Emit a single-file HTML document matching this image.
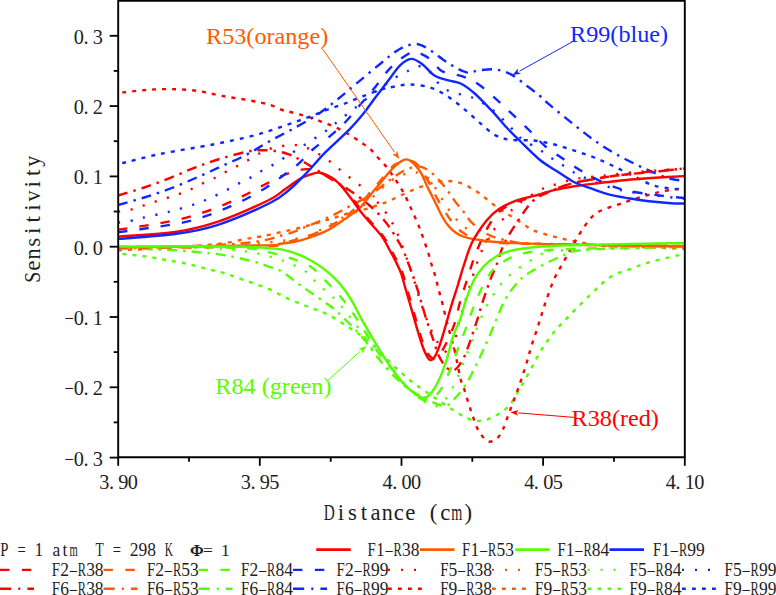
<!DOCTYPE html>
<html><head><meta charset="utf-8">
<style>
html,body{margin:0;padding:0;background:#fff;}
body{width:776px;height:595px;overflow:hidden;position:relative;}
svg{position:absolute;left:0;top:0;}
.m{font-family:"Liberation Mono",monospace;}
.s{font-family:"Liberation Serif",serif;}
</style></head><body>
<svg width="776" height="595" viewBox="0 0 776 595">
<defs><clipPath id="pc"><rect x="118.2" y="1" width="566.6" height="456.3"/></clipPath></defs>
<g clip-path="url(#pc)" stroke-linecap="butt">
<path d="M118.0 250.2 C122.4 250.0 136.5 249.5 144.2 249.2 C151.9 248.9 157.7 248.6 164.4 248.2 C171.1 247.8 177.8 247.3 184.5 246.8 C191.2 246.3 198.0 245.8 204.7 245.2 C211.4 244.6 218.2 244.1 224.9 243.1 C231.6 242.1 238.8 240.2 245.0 239.1 C251.2 238.0 255.8 237.5 262.0 236.3 C268.2 235.1 275.3 233.4 282.0 231.9 C288.7 230.4 295.6 229.0 302.3 227.2 C309.1 225.4 317.1 222.9 322.5 221.3 C327.9 219.7 330.6 218.9 335.0 217.6 C339.4 216.3 343.3 214.8 348.8 213.3 C354.3 211.8 363.2 209.9 368.0 208.6 C372.8 207.2 374.1 206.3 377.3 205.2 C380.5 204.1 383.8 203.1 387.0 201.8 C390.2 200.5 393.2 199.0 396.3 197.6 C399.4 196.2 402.5 194.7 405.6 193.3 C408.7 191.9 411.6 190.5 414.7 189.2 C417.8 187.9 420.8 186.8 424.0 185.7 C427.2 184.6 430.7 183.4 433.9 182.6 C437.1 181.8 440.2 181.2 443.4 181.0 C446.6 180.8 449.8 180.9 453.1 181.4 C456.4 181.9 459.9 182.7 463.0 183.9 C466.1 185.1 469.0 187.0 471.8 188.6 C474.6 190.2 477.4 191.8 480.0 193.7 C482.6 195.6 485.1 197.8 487.7 199.9 C490.3 202.0 492.8 204.1 495.5 206.1 C498.2 208.1 501.1 210.1 503.7 211.8 C506.3 213.5 508.0 214.2 511.3 216.3 C514.6 218.4 519.9 222.1 523.7 224.5 C527.5 226.9 529.6 228.8 534.0 230.6 C538.4 232.4 544.7 234.1 550.1 235.6 C555.5 237.1 560.9 238.4 566.3 239.6 C571.7 240.8 576.7 241.7 582.4 242.7 C588.1 243.7 592.4 245.0 600.5 245.7 C608.6 246.4 616.9 246.2 630.8 246.7 C644.7 247.2 675.1 248.4 684.0 248.7" fill="none" stroke="#ff5a00" stroke-width="2.4" stroke-dasharray="4 6"/>
<path d="M122.5 254.0 C126.1 254.4 137.2 255.4 144.2 256.3 C151.2 257.2 157.7 258.5 164.4 259.7 C171.1 260.9 177.8 261.9 184.5 263.3 C191.2 264.7 198.0 266.6 204.7 268.3 C211.4 270.0 218.2 271.4 224.9 273.4 C231.6 275.4 237.8 277.8 245.0 280.4 C252.2 282.9 260.8 285.6 268.0 288.7 C275.2 291.8 281.5 295.8 288.2 298.8 C294.9 301.8 301.7 304.2 308.4 306.9 C315.1 309.6 321.6 311.3 328.5 314.9 C335.4 318.4 343.1 323.6 350.0 328.2 C356.9 332.8 363.5 336.6 370.2 342.3 C376.9 348.0 383.6 356.1 390.3 362.5 C397.0 368.9 403.8 375.2 410.5 380.6 C417.2 386.0 422.5 389.4 430.6 395.0 C438.7 400.6 452.7 409.8 459.3 413.9 C465.9 417.9 466.9 418.1 470.2 419.3 C473.5 420.5 476.1 420.9 479.0 420.9 C481.9 420.9 484.4 420.5 487.7 419.3 C491.0 418.1 495.0 416.2 498.6 413.9 C502.2 411.5 505.9 409.6 509.5 405.2 C513.1 400.8 516.8 393.9 520.4 387.7 C524.0 381.5 527.8 374.6 531.4 368.0 C535.0 361.4 538.7 354.2 542.3 348.4 C545.9 342.6 549.9 337.3 553.2 333.1 C556.5 328.9 555.8 329.7 561.9 323.3 C568.0 316.9 581.9 302.7 590.0 295.0 C598.1 287.3 603.8 281.2 610.6 276.9 C617.4 272.5 624.1 271.4 630.8 268.9 C637.5 266.4 642.1 264.3 651.0 261.8 C659.9 259.3 678.5 255.3 684.0 254.0" fill="none" stroke="#55ff00" stroke-width="2.4" stroke-dasharray="4 6"/>
<path d="M122.3 92.5 C126.4 92.1 138.8 90.5 146.7 89.9 C154.6 89.3 161.8 89.0 170.0 89.1 C178.2 89.2 187.3 89.6 196.0 90.7 C204.7 91.8 213.0 94.3 222.0 95.9 C231.0 97.5 242.0 99.0 250.0 100.5 C258.0 102.0 264.6 103.2 270.0 104.8 C275.4 106.4 278.9 108.8 282.3 110.0 C285.7 111.2 287.3 111.2 290.3 112.0 C293.3 112.8 297.1 113.8 300.4 114.7 C303.6 115.6 306.7 116.4 309.8 117.4 C312.9 118.4 316.2 119.7 319.2 120.8 C322.2 121.9 325.0 122.9 328.0 124.1 C331.0 125.3 334.4 126.6 337.4 128.1 C340.4 129.6 343.2 131.1 346.1 132.8 C349.0 134.5 352.1 136.5 355.0 138.3 C357.9 140.2 360.7 142.1 363.3 143.9 C365.9 145.8 368.4 147.2 370.7 149.4 C373.0 151.6 374.9 154.3 377.2 156.8 C379.5 159.3 382.4 162.0 384.6 164.6 C386.9 167.2 388.8 170.0 390.7 172.6 C392.6 175.2 394.2 177.6 396.0 180.4 C397.8 183.2 399.8 186.3 401.5 189.2 C403.2 192.1 404.7 194.9 406.2 197.9 C407.7 200.9 409.1 204.1 410.5 207.2 C411.9 210.3 413.2 213.2 414.6 216.3 C416.0 219.4 417.5 222.9 418.7 225.9 C419.9 228.9 420.9 231.4 422.0 234.6 C423.1 237.8 424.5 241.7 425.6 245.0 C426.7 248.3 427.8 251.1 428.7 254.2 C429.6 257.3 430.3 260.4 431.2 263.5 C432.1 266.6 433.4 269.6 434.3 272.8 C435.2 276.0 436.1 279.4 436.9 282.6 C437.7 285.8 438.4 288.9 439.3 292.1 C440.2 295.4 441.3 298.9 442.1 302.1 C442.9 305.3 443.2 306.8 444.3 311.4 C445.4 316.0 447.2 323.2 449.0 330.0 C450.8 336.8 453.1 343.8 455.0 352.0 C456.9 360.2 459.0 372.8 460.6 379.1 C462.2 385.4 463.1 385.6 464.5 390.0 C465.9 394.4 467.6 400.5 469.1 405.2 C470.6 409.9 471.9 413.9 473.5 418.3 C475.1 422.7 476.6 427.6 479.0 431.4 C481.4 435.2 484.8 439.9 487.7 441.2 C490.6 442.5 493.8 441.0 496.4 439.0 C498.9 437.0 500.8 433.8 503.0 429.2 C505.2 424.6 507.3 417.5 509.5 411.7 C511.7 405.9 514.1 399.6 516.1 394.2 C518.1 388.8 519.7 384.4 521.5 379.0 C523.3 373.6 525.4 367.0 527.0 361.5 C528.6 356.0 529.6 352.0 531.4 346.2 C533.2 340.4 535.7 333.6 537.9 326.6 C540.1 319.7 542.1 312.4 544.8 304.5 C547.5 296.6 551.0 286.3 554.2 279.0 C557.4 271.7 560.9 266.9 564.2 260.8 C567.6 254.8 570.9 248.4 574.3 242.7 C577.7 237.0 581.0 231.2 584.4 226.5 C587.8 221.8 590.8 217.4 594.5 214.4 C598.2 211.4 602.6 210.1 606.6 208.4 C610.6 206.7 614.7 205.8 618.7 204.4 C622.7 203.1 626.1 201.8 630.8 200.3 C635.5 198.8 641.5 196.8 646.9 195.3 C652.3 193.8 656.8 192.5 663.0 191.3 C669.2 190.1 680.5 188.7 684.0 188.2" fill="none" stroke="#ff0000" stroke-width="2.4" stroke-dasharray="4 6"/>
<path d="M122.2 163.2 C128.5 161.7 144.9 157.1 160.0 154.0 C175.1 150.9 197.6 147.5 212.8 144.5 C228.0 141.5 241.9 138.5 251.3 136.2 C260.8 133.9 263.2 132.8 269.5 130.8 C275.8 128.8 282.6 126.3 289.0 124.1 C295.4 121.9 301.5 119.8 307.8 117.4 C314.1 115.1 320.4 112.3 326.6 110.0 C332.8 107.7 338.9 105.8 345.0 103.5 C351.1 101.2 357.0 98.4 363.2 96.1 C369.4 93.8 376.7 91.0 382.0 89.4 C387.3 87.8 390.3 87.3 395.0 86.5 C399.7 85.7 404.3 84.3 410.2 84.5 C416.1 84.7 424.2 85.7 430.3 87.5 C436.4 89.3 441.1 92.2 446.5 95.6 C451.9 99.0 457.2 103.3 462.6 107.7 C468.0 112.1 473.3 117.3 478.7 121.8 C484.1 126.3 489.4 131.9 494.8 134.9 C500.2 137.9 504.5 139.0 511.0 139.9 C517.5 140.8 526.8 139.7 534.0 140.5 C541.2 141.3 547.5 142.8 554.2 144.5 C560.9 146.2 567.6 148.4 574.3 150.6 C581.0 152.8 587.8 154.9 594.5 157.6 C601.2 160.3 608.0 163.5 614.7 166.7 C621.4 169.9 628.1 173.6 634.8 176.8 C641.5 180.0 646.8 183.6 655.0 185.8 C663.2 188.0 679.2 189.2 684.0 189.9" fill="none" stroke="#1028ff" stroke-width="2.4" stroke-dasharray="4 6"/>
<path d="M118.0 248.5 C138.3 247.8 209.7 246.2 240.0 244.5 C270.3 242.8 285.7 240.8 299.6 238.1 C313.5 235.4 316.4 231.6 323.3 228.3 C330.2 225.0 334.5 222.4 341.3 218.5 C348.1 214.6 356.4 210.8 364.0 205.0 C371.6 199.2 380.0 188.9 386.8 183.7 C393.6 178.5 399.5 175.8 405.0 174.0 C410.5 172.2 415.8 172.0 420.0 173.0 C424.2 174.0 427.1 176.9 430.0 180.0 C432.9 183.1 435.3 187.8 437.7 191.6 C440.1 195.4 442.1 199.4 444.4 203.0 C446.7 206.6 449.0 210.0 451.6 213.3 C454.2 216.7 456.5 220.0 459.9 223.1 C463.3 226.2 467.0 229.3 472.0 232.0 C477.0 234.7 482.0 237.2 490.0 239.0 C498.0 240.8 487.7 241.8 520.0 243.0 C552.3 244.2 656.7 245.5 684.0 246.0" fill="none" stroke="#ff5a00" stroke-width="2.4" stroke-dasharray="2.2 10.5"/>
<path d="M118.0 247.0 C131.7 247.2 180.3 247.5 200.0 248.0 C219.7 248.5 227.9 249.5 236.0 250.2 C244.1 250.8 244.4 251.2 248.7 251.9 C253.0 252.6 256.4 253.0 262.0 254.4 C267.6 255.8 275.1 257.8 282.2 260.5 C289.2 263.2 298.2 266.6 304.3 270.6 C310.4 274.6 313.4 280.0 318.5 284.7 C323.6 289.4 329.9 294.1 334.6 298.8 C339.3 303.5 342.1 307.2 346.7 312.9 C351.3 318.6 356.4 325.1 362.0 333.0 C367.6 340.9 373.7 351.8 380.0 360.0 C386.3 368.2 393.3 375.7 400.0 382.0 C406.7 388.3 415.0 394.2 420.0 398.0 C425.0 401.8 427.2 403.7 430.0 405.0 C432.8 406.3 434.7 406.7 437.0 406.0 C439.3 405.3 441.6 403.6 444.0 401.0 C446.4 398.4 449.1 394.1 451.2 390.4 C453.3 386.7 455.1 382.6 456.9 378.6 C458.7 374.6 460.4 370.4 462.0 366.4 C463.6 362.3 465.0 358.3 466.7 354.3 C468.4 350.3 470.4 346.2 472.0 342.2 C473.6 338.2 473.1 337.1 476.1 330.1 C479.1 323.1 484.4 309.2 490.0 300.0 C495.6 290.8 501.3 282.7 510.0 275.0 C518.7 267.3 534.6 257.9 542.0 253.8 C549.4 249.8 530.5 251.8 554.2 250.7 C577.9 249.6 662.4 247.6 684.0 247.0" fill="none" stroke="#55ff00" stroke-width="2.4" stroke-dasharray="2.2 10.5"/>
<path d="M118.0 211.7 C120.2 211.3 126.9 210.6 131.1 209.6 C135.3 208.6 139.2 206.9 143.2 205.6 C147.2 204.3 151.1 202.9 155.3 201.6 C159.5 200.2 164.2 198.8 168.4 197.5 C172.6 196.2 176.5 195.0 180.5 193.5 C184.5 192.0 188.7 190.3 192.6 188.5 C196.5 186.7 199.8 184.7 203.7 182.8 C207.6 181.0 211.9 179.3 215.8 177.4 C219.7 175.5 223.0 173.3 226.9 171.3 C230.8 169.3 235.2 167.2 239.0 165.2 C242.8 163.1 246.2 161.2 250.0 159.0 C253.8 156.8 258.1 153.9 262.1 152.0 C266.1 150.1 269.9 148.7 274.2 147.6 C278.4 146.5 283.2 145.7 287.6 145.4 C292.0 145.1 296.4 144.8 300.4 145.6 C304.4 146.4 308.1 148.5 311.8 150.3 C315.5 152.1 319.0 154.1 322.6 156.4 C326.2 158.7 329.9 161.3 333.4 164.0 C336.9 166.7 339.9 170.0 343.4 172.8 C346.9 175.6 350.7 178.1 354.2 180.8 C357.7 183.5 361.0 186.0 364.2 188.9 C367.4 191.8 370.5 194.8 373.5 198.0 C376.5 201.2 379.5 204.3 382.3 207.8 C385.1 211.3 387.9 215.3 390.2 219.2 C392.5 223.1 394.4 226.9 396.4 231.2 C398.4 235.5 400.1 239.9 402.0 245.0 C403.9 250.1 406.0 256.2 408.0 262.0 C410.0 267.8 412.0 273.7 414.0 280.0 C416.0 286.3 417.8 293.3 420.0 300.0 C422.2 306.7 424.7 314.0 427.0 320.0 C429.3 326.0 431.7 331.5 434.0 336.0 C436.3 340.5 438.8 344.2 441.0 347.0 C443.2 349.8 445.7 351.8 447.4 353.0 C449.1 354.2 449.9 354.7 451.0 354.0 C452.1 353.3 453.1 351.5 453.8 349.0 C454.6 346.5 454.9 342.6 455.5 339.0 C456.1 335.4 456.4 331.2 457.4 327.2 C458.3 323.2 459.9 319.3 461.2 315.1 C462.5 310.9 463.8 306.4 465.0 302.2 C466.2 298.0 467.4 294.3 468.7 290.1 C469.9 285.9 471.2 281.4 472.5 277.2 C473.8 273.0 474.9 269.1 476.3 265.1 C477.7 261.1 478.5 258.0 480.8 253.0 C483.1 248.0 486.0 241.0 490.0 235.0 C494.0 229.0 500.0 222.3 505.0 217.0 C510.0 211.7 514.1 207.5 520.0 203.0 C525.9 198.5 534.9 192.9 540.2 190.0 C545.6 187.1 546.1 187.4 552.1 185.5 C558.1 183.6 567.9 180.4 576.3 178.8 C584.7 177.2 593.8 176.8 602.5 175.8 C611.2 174.8 620.0 173.5 628.8 172.7 C637.5 171.8 645.8 171.4 655.0 170.7 C664.2 170.0 679.2 168.9 684.0 168.5" fill="none" stroke="#ff0000" stroke-width="2.4" stroke-dasharray="2.2 10.5"/>
<path d="M118.0 222.7 C120.2 222.4 126.9 221.5 131.1 220.7 C135.3 219.9 136.8 219.2 143.2 217.7 C149.6 216.2 161.0 213.9 169.4 211.7 C177.8 209.5 187.4 206.6 193.6 204.6 C199.8 202.6 202.7 201.3 206.7 199.6 C210.7 197.9 213.9 196.4 217.8 194.5 C221.7 192.6 226.0 190.4 229.9 188.4 C233.8 186.4 237.2 184.3 241.0 182.3 C244.8 180.3 249.0 178.6 252.7 176.5 C256.4 174.4 259.7 171.9 263.4 169.8 C267.1 167.7 271.1 166.0 274.9 163.8 C278.7 161.6 282.6 158.8 286.3 156.4 C290.0 154.1 293.3 152.0 297.0 149.7 C300.7 147.3 304.8 144.7 308.5 142.3 C312.2 139.9 315.6 137.9 319.2 135.5 C322.8 133.1 326.6 130.7 330.0 128.1 C333.4 125.5 335.2 123.4 339.4 120.1 C343.6 116.8 349.1 112.7 355.0 108.0 C360.9 103.3 368.3 97.0 375.0 92.0 C381.7 87.0 389.2 81.7 395.0 78.0 C400.8 74.3 405.8 72.0 410.0 70.0 C414.2 68.0 416.9 66.0 420.2 66.3 C423.5 66.6 426.6 68.8 430.0 72.0 C433.4 75.2 436.6 82.1 440.4 85.5 C444.1 88.9 448.1 90.8 452.5 92.5 C456.9 94.2 462.2 94.2 466.6 95.6 C471.0 96.9 474.0 97.9 478.7 100.6 C483.4 103.3 489.3 107.1 495.0 112.0 C500.7 116.9 508.3 125.1 513.0 129.8 C517.7 134.5 518.8 136.9 523.0 140.0 C527.2 143.1 533.6 145.7 538.0 148.5 C542.4 151.3 545.4 154.1 549.1 156.6 C552.8 159.1 556.5 161.3 560.2 163.7 C563.9 166.0 567.6 168.5 571.3 170.7 C575.0 172.9 574.3 173.6 582.4 176.8 C590.5 180.0 603.1 186.3 620.0 190.0 C636.9 193.7 673.3 197.5 684.0 199.0" fill="none" stroke="#1028ff" stroke-width="2.4" stroke-dasharray="2.2 10.5"/>
<path d="M118.0 248.5 C138.3 247.7 212.3 245.8 240.0 243.5 C267.7 241.2 272.9 237.7 284.1 234.8 C295.3 231.9 299.1 229.5 307.3 226.2 C315.6 222.9 326.5 218.3 333.6 214.9 C340.7 211.5 343.9 209.3 350.0 206.0 C356.1 202.7 363.3 199.3 370.0 195.0 C376.7 190.7 384.4 184.0 390.0 180.0 C395.6 176.0 398.8 173.3 403.4 171.0 C408.0 168.7 413.6 166.5 417.7 166.4 C421.8 166.3 424.8 168.1 428.2 170.2 C431.6 172.3 434.8 175.7 437.9 179.0 C441.0 182.3 444.3 186.2 447.1 189.9 C449.9 193.6 452.0 197.2 454.7 200.9 C457.4 204.6 460.6 208.2 463.5 211.8 C466.4 215.4 468.2 219.1 471.8 222.6 C475.4 226.1 479.5 230.1 485.0 233.0 C490.5 235.9 495.8 238.2 505.0 240.0 C514.2 241.8 510.2 243.0 540.0 244.0 C569.8 245.0 660.0 245.7 684.0 246.0" fill="none" stroke="#ff5a00" stroke-width="2.4" stroke-dasharray="10 6 2.5 6"/>
<path d="M118.0 248.0 C126.7 248.3 155.8 249.2 170.0 250.0 C184.2 250.8 193.3 251.5 203.0 252.5 C212.7 253.5 219.2 254.2 228.0 255.8 C236.8 257.4 248.9 260.3 255.6 262.1 C262.3 263.9 263.7 264.9 268.0 266.5 C272.3 268.1 275.9 268.0 281.6 271.4 C287.3 274.8 294.5 281.1 302.3 286.7 C310.1 292.3 322.1 300.1 328.5 304.8 C334.9 309.5 335.0 309.5 340.6 314.9 C346.2 320.3 355.8 329.8 362.0 337.0 C368.2 344.2 372.5 351.3 378.0 358.0 C383.5 364.7 389.3 371.5 395.0 377.0 C400.7 382.5 406.5 387.2 412.0 391.0 C417.5 394.8 423.3 397.7 428.0 400.0 C432.7 402.3 436.8 404.1 440.0 405.0 C443.2 405.9 445.0 406.2 447.0 405.5 C449.0 404.8 450.2 402.8 452.0 401.0 C453.8 399.2 455.6 397.9 458.0 395.0 C460.4 392.1 464.0 387.6 466.6 383.5 C469.2 379.4 471.3 374.6 473.4 370.4 C475.5 366.2 476.5 364.6 479.4 358.3 C482.3 352.0 486.6 342.5 490.9 332.8 C495.2 323.1 500.1 308.8 505.0 300.0 C509.9 291.2 515.2 285.0 520.0 280.0 C524.8 275.0 527.3 273.8 534.0 269.9 C540.7 266.0 551.5 260.2 560.2 256.8 C568.9 253.4 565.8 251.3 586.4 249.7 C607.0 248.1 667.7 247.4 684.0 247.0" fill="none" stroke="#55ff00" stroke-width="2.4" stroke-dasharray="10 6 2.5 6"/>
<path d="M118.0 195.5 C122.4 194.2 135.5 190.4 144.2 187.5 C152.9 184.6 161.8 181.2 170.4 177.8 C179.0 174.4 187.2 170.5 195.6 167.3 C204.0 164.1 212.3 161.2 221.1 158.5 C229.9 155.8 241.5 152.8 248.3 151.4 C255.1 150.0 257.6 150.4 262.1 150.3 C266.6 150.2 271.0 150.3 275.5 151.0 C280.0 151.7 284.7 152.8 289.0 154.4 C293.3 156.0 295.9 157.5 301.1 160.4 C306.3 163.3 313.3 167.8 320.0 172.0 C326.7 176.2 336.8 182.5 341.4 185.3 C346.0 188.1 344.7 187.1 347.5 188.9 C350.3 190.7 354.6 193.6 358.2 196.3 C361.8 199.0 365.5 202.0 369.0 205.0 C372.5 208.0 375.8 210.9 379.0 214.4 C382.2 217.9 385.7 222.1 388.5 225.9 C391.3 229.7 393.5 233.4 395.9 237.3 C398.3 241.2 400.9 245.4 402.9 249.6 C404.9 253.8 406.4 258.4 408.0 262.5 C409.6 266.6 410.9 270.1 412.5 274.5 C414.1 278.9 415.9 284.3 417.3 288.8 C418.7 293.3 419.7 297.0 421.0 301.4 C422.3 305.8 423.6 310.4 425.0 315.0 C426.4 319.6 428.0 324.5 429.5 329.0 C431.0 333.5 432.6 337.7 434.0 342.0 C435.4 346.3 436.5 350.9 438.2 354.6 C439.9 358.4 441.9 361.9 444.0 364.5 C446.1 367.1 448.8 369.9 451.0 370.5 C453.2 371.1 454.8 370.2 457.0 368.0 C459.2 365.8 462.0 361.2 464.0 357.3 C466.0 353.4 467.4 348.8 469.0 344.5 C470.6 340.2 471.8 336.1 473.3 331.7 C474.8 327.3 476.4 322.5 477.8 318.1 C479.2 313.7 480.2 309.6 481.6 305.2 C483.0 300.8 484.6 296.0 486.1 291.6 C487.6 287.2 489.1 282.9 490.7 278.7 C492.3 274.5 493.7 272.1 496.0 266.2 C498.3 260.2 500.6 251.0 504.5 243.0 C508.4 235.0 514.7 225.6 519.6 218.4 C524.5 211.2 528.5 204.7 534.0 200.0 C539.5 195.3 545.9 193.4 552.6 190.5 C559.3 187.6 563.9 185.2 574.3 182.8 C584.6 180.4 601.2 177.7 614.7 175.8 C628.2 174.0 643.5 172.9 655.0 171.7 C666.5 170.5 679.2 169.0 684.0 168.5" fill="none" stroke="#ff0000" stroke-width="2.4" stroke-dasharray="10 6 2.5 6"/>
<path d="M118.0 205.0 C122.4 203.8 135.5 200.2 144.2 197.5 C152.9 194.8 161.8 191.8 170.4 188.5 C179.0 185.2 187.2 181.7 195.6 178.0 C204.0 174.3 212.6 170.4 221.0 166.5 C229.4 162.6 238.2 159.0 246.3 154.8 C254.4 150.6 261.6 145.7 269.5 141.3 C277.4 136.9 285.6 132.9 293.7 128.4 C301.8 123.9 310.5 119.2 317.9 114.3 C325.3 109.4 331.2 104.4 338.0 99.0 C344.8 93.6 351.3 87.8 358.5 81.8 C365.7 75.8 374.9 68.2 381.0 63.2 C387.1 58.2 390.8 54.9 395.0 52.0 C399.2 49.1 402.1 47.3 406.0 46.0 C409.9 44.7 414.1 43.5 418.2 44.2 C422.2 44.9 425.2 47.0 430.3 50.2 C435.4 53.4 442.4 59.6 448.5 63.3 C454.6 67.0 461.6 71.2 466.6 72.4 C471.6 73.6 474.0 70.9 478.7 70.4 C483.4 69.9 489.4 68.7 494.8 69.4 C500.2 70.1 505.6 71.6 511.0 74.4 C516.4 77.2 522.2 82.4 527.0 86.0 C531.8 89.6 536.1 92.8 540.0 96.0 C543.9 99.2 544.7 100.7 550.1 105.2 C555.5 109.8 564.9 117.4 572.3 123.3 C579.7 129.2 586.8 135.1 594.5 140.5 C602.2 145.9 610.6 151.1 618.7 155.6 C626.8 160.1 634.8 164.0 642.9 167.7 C651.0 171.4 660.2 175.6 667.1 177.8 C674.0 180.0 681.2 180.3 684.0 180.8" fill="none" stroke="#1028ff" stroke-width="2.4" stroke-dasharray="10 6 2.5 6"/>
<path d="M118.0 248.0 C142.0 247.8 234.3 247.3 262.0 246.5 C289.7 245.7 275.5 245.0 284.0 243.0 C292.5 241.0 305.1 237.3 313.0 234.3 C320.9 231.3 325.3 228.8 331.5 225.2 C337.7 221.6 343.7 218.2 350.1 212.8 C356.5 207.4 363.2 200.5 370.0 193.0 C376.8 185.5 386.0 173.2 391.0 168.0 C396.0 162.8 397.0 163.2 400.0 162.0 C403.0 160.8 406.0 160.0 409.0 160.5 C412.0 161.0 414.7 161.4 418.0 165.0 C421.3 168.6 425.1 175.8 428.6 181.9 C432.1 188.0 435.2 195.2 438.8 201.4 C442.4 207.6 446.2 214.2 450.1 219.3 C454.0 224.4 457.0 228.6 462.0 232.0 C467.0 235.4 471.5 238.1 480.0 240.0 C488.5 241.9 479.0 242.5 513.0 243.5 C547.0 244.5 655.5 245.6 684.0 246.0" fill="none" stroke="#ff5a00" stroke-width="2.4" stroke-dasharray="9.5 12"/>
<path d="M118.0 246.8 C131.7 246.8 178.0 246.7 200.0 247.0 C222.0 247.3 238.2 247.6 250.0 248.5 C261.8 249.4 264.0 251.1 270.7 252.7 C277.4 254.3 283.4 255.7 290.0 258.0 C296.6 260.3 304.6 262.9 310.4 266.5 C316.1 270.1 319.5 274.6 324.5 279.6 C329.5 284.7 335.9 291.2 340.6 296.8 C345.3 302.4 348.8 307.3 352.7 312.9 C356.6 318.5 359.2 322.6 364.1 330.2 C369.0 337.8 377.0 351.4 382.3 358.5 C387.6 365.6 392.1 368.4 396.0 373.0 C399.9 377.6 403.0 382.5 406.0 386.0 C409.0 389.5 411.0 391.6 414.0 394.0 C417.0 396.4 421.0 399.8 424.0 400.5 C427.0 401.2 429.2 399.8 432.0 398.0 C434.8 396.2 437.4 394.8 440.5 390.0 C443.6 385.2 447.5 376.1 450.4 369.2 C453.3 362.3 455.3 355.8 457.9 348.9 C460.5 342.0 463.3 335.2 466.0 328.1 C468.7 321.0 470.7 314.0 474.0 306.0 C477.3 298.0 481.7 287.0 486.0 280.0 C490.3 273.0 492.7 268.7 500.0 264.0 C507.3 259.3 513.3 254.7 530.0 252.0 C546.7 249.3 574.3 249.0 600.0 248.0 C625.7 247.0 670.0 246.3 684.0 246.0" fill="none" stroke="#55ff00" stroke-width="2.4" stroke-dasharray="9.5 12"/>
<path d="M118.0 229.8 C121.7 229.2 133.1 227.5 140.2 226.4 C147.2 225.3 153.2 224.4 160.3 223.1 C167.4 221.8 175.4 220.4 182.5 218.7 C189.6 217.0 195.9 214.9 202.7 212.7 C209.5 210.4 216.4 207.9 223.1 205.2 C229.8 202.4 236.2 199.4 242.7 196.2 C249.2 193.0 255.1 189.5 262.1 185.9 C269.2 182.3 278.1 177.2 285.0 174.5 C291.9 171.8 298.4 170.1 303.4 169.4 C308.4 168.7 311.2 169.5 315.0 170.5 C318.8 171.5 321.8 173.2 326.0 175.5 C330.2 177.8 335.6 180.7 340.0 184.5 C344.4 188.3 348.7 193.7 352.6 198.5 C356.6 203.3 359.7 208.6 363.7 213.6 C367.7 218.6 373.3 224.5 376.7 228.5 C380.1 232.5 381.8 234.1 384.2 237.6 C386.6 241.1 388.9 245.8 391.0 249.7 C393.1 253.6 395.1 257.1 397.0 261.0 C398.9 264.9 400.8 268.3 402.5 273.0 C404.2 277.7 405.5 283.5 407.1 289.0 C408.7 294.5 410.3 300.0 412.0 306.0 C413.7 312.0 415.7 318.8 417.5 325.0 C419.3 331.2 421.2 338.2 423.0 343.0 C424.8 347.8 426.3 351.4 428.0 354.0 C429.7 356.6 431.3 358.0 433.0 358.5 C434.7 359.0 435.9 359.4 438.0 357.0 C440.1 354.6 443.0 349.8 445.7 344.3 C448.4 338.9 451.9 331.3 454.3 324.3 C456.7 317.3 457.9 309.5 460.0 302.1 C462.1 294.7 464.3 288.3 467.0 280.0 C469.7 271.7 472.4 261.7 476.3 252.1 C480.2 242.5 485.6 230.2 490.7 222.5 C495.8 214.8 498.9 210.7 507.2 206.0 C515.5 201.3 528.0 198.7 540.2 194.6 C552.4 190.5 563.0 185.2 580.4 181.5 C597.8 177.8 627.6 174.2 644.9 172.1 C662.2 170.0 677.5 169.6 684.0 169.1" fill="none" stroke="#ff0000" stroke-width="2.4" stroke-dasharray="9.5 12"/>
<path d="M118.0 232.4 C121.7 231.9 133.1 230.2 140.2 229.2 C147.2 228.2 153.2 227.5 160.3 226.4 C167.4 225.3 175.4 224.2 182.5 222.7 C189.6 221.1 196.0 219.3 202.7 217.1 C209.4 214.9 216.1 212.4 222.8 209.6 C229.5 206.8 236.3 203.9 243.0 200.5 C249.7 197.1 256.9 193.3 263.2 189.4 C269.5 185.5 275.0 181.5 280.9 177.2 C286.8 172.9 293.0 168.5 298.4 163.8 C303.8 159.1 308.0 153.8 313.4 149.0 C318.8 144.2 325.4 140.0 330.9 135.3 C336.4 130.6 341.3 126.3 346.4 121.0 C351.4 115.7 356.3 109.2 361.2 103.5 C366.1 97.8 370.7 92.6 375.5 86.7 C380.3 80.8 384.9 73.5 390.0 68.3 C395.1 63.0 401.7 57.9 406.1 55.2 C410.5 52.5 412.2 51.5 416.2 52.2 C420.2 52.9 425.9 56.1 430.3 59.3 C434.7 62.5 437.0 68.6 442.4 71.4 C447.8 74.2 456.6 74.2 462.6 76.4 C468.7 78.6 472.6 80.3 478.7 84.5 C484.8 88.7 492.8 96.2 498.9 101.6 C504.9 107.0 509.6 111.6 515.0 116.7 C520.4 121.8 526.0 127.1 531.0 132.0 C536.0 136.9 539.5 141.4 545.0 146.0 C550.5 150.6 557.6 155.2 564.2 159.6 C570.8 164.0 577.0 168.5 584.4 172.7 C591.8 176.9 601.2 181.8 608.6 184.8 C616.0 187.8 621.1 189.2 628.8 190.9 C636.5 192.6 645.8 193.7 655.0 194.9 C664.2 196.1 679.2 197.5 684.0 198.0" fill="none" stroke="#1028ff" stroke-width="2.4" stroke-dasharray="9.5 12"/>
<path d="M118.0 247.3 C142.0 247.0 235.0 246.0 262.0 245.4 C289.0 244.8 274.4 244.4 280.0 243.8 C285.6 243.2 290.4 242.8 295.5 241.7 C300.6 240.6 305.8 238.9 310.9 237.1 C316.0 235.3 321.2 233.6 326.4 230.9 C331.6 228.2 337.6 223.9 341.9 221.1 C346.2 218.3 349.2 216.1 352.2 213.9 C355.2 211.7 357.0 210.8 360.0 207.7 C363.0 204.6 366.9 199.3 370.3 195.1 C373.7 190.9 377.2 186.8 380.6 182.7 C384.0 178.6 387.5 173.9 390.9 170.3 C394.3 166.7 398.5 163.0 401.2 161.2 C403.9 159.4 404.9 159.2 406.8 159.4 C408.7 159.6 410.7 160.9 412.6 162.6 C414.6 164.2 416.8 167.1 418.5 169.3 C420.2 171.6 421.3 173.3 422.7 176.1 C424.1 178.9 425.3 182.4 427.0 186.0 C428.7 189.6 431.0 193.7 432.8 197.4 C434.6 201.1 436.3 204.6 438.0 208.0 C439.7 211.4 441.2 214.9 443.0 218.0 C444.8 221.1 446.9 224.1 449.0 226.5 C451.1 228.9 453.2 230.8 455.5 232.5 C457.8 234.2 460.2 235.4 463.0 236.5 C465.8 237.6 467.5 238.1 472.0 238.9 C476.5 239.7 483.1 240.8 490.0 241.5 C496.9 242.2 501.7 242.6 513.4 243.1 C525.1 243.6 531.6 243.9 560.0 244.5 C588.4 245.1 663.3 246.2 684.0 246.5" fill="none" stroke="#ff5a00" stroke-width="2.4"/>
<path d="M118.0 246.6 C131.7 246.6 179.7 246.3 200.0 246.3 C220.3 246.3 229.7 246.6 240.0 246.8 C250.3 247.0 255.0 247.1 262.0 247.6 C269.0 248.1 276.1 248.5 282.2 249.6 C288.2 250.7 292.9 252.2 298.3 254.4 C303.7 256.6 309.4 259.5 314.4 262.5 C319.4 265.5 324.1 268.9 328.5 272.6 C332.9 276.3 336.9 280.3 340.6 284.7 C344.3 289.1 347.1 292.9 350.7 298.8 C354.3 304.7 357.9 312.6 362.1 320.2 C366.4 327.8 371.5 336.7 376.2 344.4 C380.9 352.1 385.6 359.8 390.3 366.5 C395.0 373.2 400.0 380.0 404.4 384.7 C408.8 389.4 413.3 392.6 416.5 394.8 C419.7 397.0 421.2 398.0 423.6 397.8 C426.0 397.6 428.1 396.7 430.6 393.8 C433.1 390.9 436.1 386.2 438.7 380.6 C441.3 375.0 444.1 367.4 446.5 360.0 C448.9 352.6 450.9 342.8 453.2 336.1 C455.4 329.4 457.9 326.0 460.0 320.0 C462.1 314.0 463.7 306.7 466.0 300.0 C468.3 293.3 471.0 285.7 474.0 280.0 C477.0 274.3 480.2 270.0 484.0 266.0 C487.8 262.0 492.6 258.5 496.9 256.0 C501.2 253.5 505.5 252.2 510.0 251.0 C514.5 249.8 515.4 249.4 523.7 248.5 C532.0 247.6 533.3 246.4 560.0 245.5 C586.7 244.6 663.3 243.4 684.0 243.0" fill="none" stroke="#55ff00" stroke-width="2.4"/>
<path d="M118.0 236.5 C127.8 235.7 159.8 234.3 176.5 231.8 C193.2 229.3 202.8 226.9 218.0 221.7 C233.2 216.5 256.8 205.9 268.0 200.5 C279.2 195.1 279.7 192.9 285.0 189.3 C290.3 185.7 295.3 181.5 299.6 179.0 C303.9 176.5 307.3 175.5 310.7 174.4 C314.1 173.3 316.6 172.3 319.9 172.7 C323.2 173.1 327.5 175.2 330.6 177.0 C333.7 178.8 335.3 179.7 338.7 183.3 C342.1 186.9 347.2 193.4 351.1 198.5 C355.0 203.6 358.2 208.6 362.2 213.6 C366.2 218.6 371.8 224.5 375.2 228.5 C378.6 232.5 380.3 234.1 382.7 237.6 C385.1 241.1 387.4 245.8 389.5 249.7 C391.6 253.6 393.6 257.1 395.5 261.0 C397.4 264.9 399.3 268.3 401.0 273.0 C402.7 277.7 404.0 283.4 405.6 289.0 C407.2 294.6 408.9 300.2 410.7 306.4 C412.5 312.6 414.5 320.0 416.4 326.4 C418.3 332.8 420.2 339.8 422.1 345.0 C424.0 350.2 426.3 355.4 427.9 357.9 C429.4 360.4 430.2 360.2 431.4 360.0 C432.6 359.8 433.7 358.7 435.0 356.4 C436.3 354.1 437.6 351.1 439.3 346.4 C441.0 341.6 443.1 334.3 445.0 327.9 C446.9 321.5 448.6 315.0 450.7 307.9 C452.8 300.8 455.6 292.3 457.9 285.0 C460.1 277.7 461.8 271.4 464.2 264.2 C466.6 257.0 468.6 249.3 472.3 242.0 C476.0 234.7 482.2 225.9 486.6 220.4 C491.1 214.9 494.2 212.4 499.0 209.1 C503.8 205.8 509.7 203.0 515.5 200.8 C521.3 198.6 527.5 197.7 534.0 195.9 C540.5 194.1 547.5 191.8 554.2 190.2 C560.9 188.6 567.6 187.3 574.3 186.2 C581.0 185.1 587.8 184.4 594.5 183.6 C601.2 182.8 608.0 181.9 614.7 181.2 C621.4 180.5 628.1 179.8 634.8 179.2 C641.5 178.6 646.8 178.2 655.0 177.7 C663.2 177.2 679.2 176.4 684.0 176.1" fill="none" stroke="#ff0000" stroke-width="2.4"/>
<path d="M118.0 238.9 C127.8 238.1 159.8 236.2 176.5 233.8 C193.2 231.5 202.4 229.9 218.0 224.8 C233.6 219.7 258.2 208.8 270.0 203.0 C281.8 197.2 282.8 195.1 289.0 190.0 C295.2 184.9 300.9 178.8 307.0 172.5 C313.1 166.2 318.3 159.5 325.5 152.2 C332.7 144.9 343.5 135.5 350.0 128.8 C356.5 122.2 360.3 117.5 364.5 112.3 C368.7 107.1 371.3 102.9 375.3 97.5 C379.3 92.1 384.6 85.4 388.7 80.0 C392.8 74.6 396.4 68.8 400.1 65.3 C403.9 61.8 407.5 59.1 411.2 58.9 C414.9 58.7 418.4 61.5 422.3 64.3 C426.2 67.0 430.0 72.7 434.4 75.4 C438.8 78.1 444.1 79.1 448.5 80.4 C452.9 81.8 456.2 81.3 460.6 83.5 C465.0 85.7 469.7 89.1 474.7 93.5 C479.7 97.9 485.4 104.0 490.8 109.7 C496.2 115.4 501.9 122.4 506.9 127.8 C511.9 133.2 515.5 136.6 521.0 142.0 C526.5 147.4 533.8 155.0 540.0 160.0 C546.2 165.0 552.5 168.4 558.2 172.1 C563.9 175.8 568.9 179.5 574.3 182.2 C579.7 184.9 584.8 186.2 590.5 188.2 C596.2 190.2 602.2 192.6 608.6 194.3 C615.0 196.0 622.1 197.1 628.8 198.3 C635.5 199.5 641.8 200.5 648.9 201.3 C656.0 202.1 665.2 202.9 671.1 203.3 C677.0 203.7 681.9 203.5 684.0 203.5" fill="none" stroke="#1028ff" stroke-width="2.4"/>
</g>
<path d="M118.2 0.8 H684.8 V457.3 H118.2 Z" fill="none" stroke="#000" stroke-width="1.9"/>
<line x1="118.2" y1="457.3" x2="118.2" y2="465.8" stroke="#000" stroke-width="1.8"/>
<line x1="189.0" y1="457.3" x2="189.0" y2="461.8" stroke="#000" stroke-width="1.8"/>
<line x1="259.8" y1="457.3" x2="259.8" y2="465.8" stroke="#000" stroke-width="1.8"/>
<line x1="330.7" y1="457.3" x2="330.7" y2="461.8" stroke="#000" stroke-width="1.8"/>
<line x1="401.5" y1="457.3" x2="401.5" y2="465.8" stroke="#000" stroke-width="1.8"/>
<line x1="472.3" y1="457.3" x2="472.3" y2="461.8" stroke="#000" stroke-width="1.8"/>
<line x1="543.1" y1="457.3" x2="543.1" y2="465.8" stroke="#000" stroke-width="1.8"/>
<line x1="614.0" y1="457.3" x2="614.0" y2="461.8" stroke="#000" stroke-width="1.8"/>
<line x1="684.8" y1="457.3" x2="684.8" y2="465.8" stroke="#000" stroke-width="1.8"/>
<line x1="118.2" y1="457.6" x2="109.7" y2="457.6" stroke="#000" stroke-width="1.8"/>
<line x1="118.2" y1="422.4" x2="113.7" y2="422.4" stroke="#000" stroke-width="1.8"/>
<line x1="118.2" y1="387.3" x2="109.7" y2="387.3" stroke="#000" stroke-width="1.8"/>
<line x1="118.2" y1="352.1" x2="113.7" y2="352.1" stroke="#000" stroke-width="1.8"/>
<line x1="118.2" y1="317.0" x2="109.7" y2="317.0" stroke="#000" stroke-width="1.8"/>
<line x1="118.2" y1="281.8" x2="113.7" y2="281.8" stroke="#000" stroke-width="1.8"/>
<line x1="118.2" y1="246.7" x2="109.7" y2="246.7" stroke="#000" stroke-width="1.8"/>
<line x1="118.2" y1="211.5" x2="113.7" y2="211.5" stroke="#000" stroke-width="1.8"/>
<line x1="118.2" y1="176.4" x2="109.7" y2="176.4" stroke="#000" stroke-width="1.8"/>
<line x1="118.2" y1="141.2" x2="113.7" y2="141.2" stroke="#000" stroke-width="1.8"/>
<line x1="118.2" y1="106.1" x2="109.7" y2="106.1" stroke="#000" stroke-width="1.8"/>
<line x1="118.2" y1="70.9" x2="113.7" y2="70.9" stroke="#000" stroke-width="1.8"/>
<line x1="118.2" y1="35.8" x2="109.7" y2="35.8" stroke="#000" stroke-width="1.8"/>
<text transform="translate(78.75 43.70) scale(1.000 1.000)" font-family="Liberation Serif" font-size="20.3" fill="#1e1e1e" text-anchor="middle">0</text>
<text transform="translate(85.95 43.70) scale(1.000 1.000)" font-family="Liberation Serif" font-size="20.3" fill="#1e1e1e" text-anchor="middle">.</text>
<text transform="translate(97.75 43.70) scale(1.000 1.000)" font-family="Liberation Serif" font-size="20.3" fill="#1e1e1e" text-anchor="middle">3</text>
<text transform="translate(78.75 114.00) scale(1.000 1.000)" font-family="Liberation Serif" font-size="20.3" fill="#1e1e1e" text-anchor="middle">0</text>
<text transform="translate(85.95 114.00) scale(1.000 1.000)" font-family="Liberation Serif" font-size="20.3" fill="#1e1e1e" text-anchor="middle">.</text>
<text transform="translate(97.75 114.00) scale(1.000 1.000)" font-family="Liberation Serif" font-size="20.3" fill="#1e1e1e" text-anchor="middle">2</text>
<text transform="translate(78.75 184.30) scale(1.000 1.000)" font-family="Liberation Serif" font-size="20.3" fill="#1e1e1e" text-anchor="middle">0</text>
<text transform="translate(85.95 184.30) scale(1.000 1.000)" font-family="Liberation Serif" font-size="20.3" fill="#1e1e1e" text-anchor="middle">.</text>
<text transform="translate(97.75 184.30) scale(1.000 1.000)" font-family="Liberation Serif" font-size="20.3" fill="#1e1e1e" text-anchor="middle">1</text>
<text transform="translate(78.75 254.60) scale(1.000 1.000)" font-family="Liberation Serif" font-size="20.3" fill="#1e1e1e" text-anchor="middle">0</text>
<text transform="translate(85.95 254.60) scale(1.000 1.000)" font-family="Liberation Serif" font-size="20.3" fill="#1e1e1e" text-anchor="middle">.</text>
<text transform="translate(97.75 254.60) scale(1.000 1.000)" font-family="Liberation Serif" font-size="20.3" fill="#1e1e1e" text-anchor="middle">0</text>
<text transform="translate(69.25 324.90) scale(0.822 1.000)" font-family="Liberation Serif" font-size="20.3" fill="#1e1e1e" text-anchor="middle">&#8722;</text>
<text transform="translate(78.75 324.90) scale(1.000 1.000)" font-family="Liberation Serif" font-size="20.3" fill="#1e1e1e" text-anchor="middle">0</text>
<text transform="translate(85.95 324.90) scale(1.000 1.000)" font-family="Liberation Serif" font-size="20.3" fill="#1e1e1e" text-anchor="middle">.</text>
<text transform="translate(97.75 324.90) scale(1.000 1.000)" font-family="Liberation Serif" font-size="20.3" fill="#1e1e1e" text-anchor="middle">1</text>
<text transform="translate(69.25 395.20) scale(0.822 1.000)" font-family="Liberation Serif" font-size="20.3" fill="#1e1e1e" text-anchor="middle">&#8722;</text>
<text transform="translate(78.75 395.20) scale(1.000 1.000)" font-family="Liberation Serif" font-size="20.3" fill="#1e1e1e" text-anchor="middle">0</text>
<text transform="translate(85.95 395.20) scale(1.000 1.000)" font-family="Liberation Serif" font-size="20.3" fill="#1e1e1e" text-anchor="middle">.</text>
<text transform="translate(97.75 395.20) scale(1.000 1.000)" font-family="Liberation Serif" font-size="20.3" fill="#1e1e1e" text-anchor="middle">2</text>
<text transform="translate(69.25 465.50) scale(0.822 1.000)" font-family="Liberation Serif" font-size="20.3" fill="#1e1e1e" text-anchor="middle">&#8722;</text>
<text transform="translate(78.75 465.50) scale(1.000 1.000)" font-family="Liberation Serif" font-size="20.3" fill="#1e1e1e" text-anchor="middle">0</text>
<text transform="translate(85.95 465.50) scale(1.000 1.000)" font-family="Liberation Serif" font-size="20.3" fill="#1e1e1e" text-anchor="middle">.</text>
<text transform="translate(97.75 465.50) scale(1.000 1.000)" font-family="Liberation Serif" font-size="20.3" fill="#1e1e1e" text-anchor="middle">3</text>
<text transform="translate(104.25 489.30) scale(1.000 1.000)" font-family="Liberation Serif" font-size="20.3" fill="#1e1e1e" text-anchor="middle">3</text>
<text transform="translate(111.45 489.30) scale(1.000 1.000)" font-family="Liberation Serif" font-size="20.3" fill="#1e1e1e" text-anchor="middle">.</text>
<text transform="translate(123.25 489.30) scale(1.000 1.000)" font-family="Liberation Serif" font-size="20.3" fill="#1e1e1e" text-anchor="middle">9</text>
<text transform="translate(132.75 489.30) scale(1.000 1.000)" font-family="Liberation Serif" font-size="20.3" fill="#1e1e1e" text-anchor="middle">0</text>
<text transform="translate(245.90 489.30) scale(1.000 1.000)" font-family="Liberation Serif" font-size="20.3" fill="#1e1e1e" text-anchor="middle">3</text>
<text transform="translate(253.10 489.30) scale(1.000 1.000)" font-family="Liberation Serif" font-size="20.3" fill="#1e1e1e" text-anchor="middle">.</text>
<text transform="translate(264.90 489.30) scale(1.000 1.000)" font-family="Liberation Serif" font-size="20.3" fill="#1e1e1e" text-anchor="middle">9</text>
<text transform="translate(274.40 489.30) scale(1.000 1.000)" font-family="Liberation Serif" font-size="20.3" fill="#1e1e1e" text-anchor="middle">5</text>
<text transform="translate(387.55 489.30) scale(1.000 1.000)" font-family="Liberation Serif" font-size="20.3" fill="#1e1e1e" text-anchor="middle">4</text>
<text transform="translate(394.75 489.30) scale(1.000 1.000)" font-family="Liberation Serif" font-size="20.3" fill="#1e1e1e" text-anchor="middle">.</text>
<text transform="translate(406.55 489.30) scale(1.000 1.000)" font-family="Liberation Serif" font-size="20.3" fill="#1e1e1e" text-anchor="middle">0</text>
<text transform="translate(416.05 489.30) scale(1.000 1.000)" font-family="Liberation Serif" font-size="20.3" fill="#1e1e1e" text-anchor="middle">0</text>
<text transform="translate(529.20 489.30) scale(1.000 1.000)" font-family="Liberation Serif" font-size="20.3" fill="#1e1e1e" text-anchor="middle">4</text>
<text transform="translate(536.40 489.30) scale(1.000 1.000)" font-family="Liberation Serif" font-size="20.3" fill="#1e1e1e" text-anchor="middle">.</text>
<text transform="translate(548.20 489.30) scale(1.000 1.000)" font-family="Liberation Serif" font-size="20.3" fill="#1e1e1e" text-anchor="middle">0</text>
<text transform="translate(557.70 489.30) scale(1.000 1.000)" font-family="Liberation Serif" font-size="20.3" fill="#1e1e1e" text-anchor="middle">5</text>
<text transform="translate(670.85 489.30) scale(1.000 1.000)" font-family="Liberation Serif" font-size="20.3" fill="#1e1e1e" text-anchor="middle">4</text>
<text transform="translate(678.05 489.30) scale(1.000 1.000)" font-family="Liberation Serif" font-size="20.3" fill="#1e1e1e" text-anchor="middle">.</text>
<text transform="translate(689.85 489.30) scale(1.000 1.000)" font-family="Liberation Serif" font-size="20.3" fill="#1e1e1e" text-anchor="middle">1</text>
<text transform="translate(699.35 489.30) scale(1.000 1.000)" font-family="Liberation Serif" font-size="20.3" fill="#1e1e1e" text-anchor="middle">0</text>
<text transform="translate(329.20 520.20) scale(0.669 1.000)" font-family="Liberation Serif" font-size="22.8" fill="#1e1e1e" text-anchor="middle">D</text>
<text transform="translate(340.80 520.20) scale(1.000 1.000)" font-family="Liberation Serif" font-size="22.8" fill="#1e1e1e" text-anchor="middle">i</text>
<text transform="translate(352.40 520.20) scale(1.000 1.000)" font-family="Liberation Serif" font-size="22.8" fill="#1e1e1e" text-anchor="middle">s</text>
<text transform="translate(364.00 520.20) scale(1.000 1.000)" font-family="Liberation Serif" font-size="22.8" fill="#1e1e1e" text-anchor="middle">t</text>
<text transform="translate(375.60 520.20) scale(1.000 1.000)" font-family="Liberation Serif" font-size="22.8" fill="#1e1e1e" text-anchor="middle">a</text>
<text transform="translate(387.20 520.20) scale(0.967 1.000)" font-family="Liberation Serif" font-size="22.8" fill="#1e1e1e" text-anchor="middle">n</text>
<text transform="translate(398.80 520.20) scale(1.000 1.000)" font-family="Liberation Serif" font-size="22.8" fill="#1e1e1e" text-anchor="middle">c</text>
<text transform="translate(410.40 520.20) scale(1.000 1.000)" font-family="Liberation Serif" font-size="22.8" fill="#1e1e1e" text-anchor="middle">e</text>
<text transform="translate(433.60 520.20) scale(1.000 1.000)" font-family="Liberation Serif" font-size="22.8" fill="#1e1e1e" text-anchor="middle">(</text>
<text transform="translate(445.20 520.20) scale(1.000 1.000)" font-family="Liberation Serif" font-size="22.8" fill="#1e1e1e" text-anchor="middle">c</text>
<text transform="translate(456.80 520.20) scale(0.621 1.000)" font-family="Liberation Serif" font-size="22.8" fill="#1e1e1e" text-anchor="middle">m</text>
<text transform="translate(468.40 520.20) scale(1.000 1.000)" font-family="Liberation Serif" font-size="22.8" fill="#1e1e1e" text-anchor="middle">)</text>
<text transform="translate(39.80 277.20) rotate(-90) scale(0.862 1)" font-family="Liberation Serif" font-size="23.0" fill="#1e1e1e" text-anchor="middle">S</text>
<text transform="translate(39.80 265.60) rotate(-90) scale(1.000 1)" font-family="Liberation Serif" font-size="23.0" fill="#1e1e1e" text-anchor="middle">e</text>
<text transform="translate(39.80 254.00) rotate(-90) scale(0.958 1)" font-family="Liberation Serif" font-size="23.0" fill="#1e1e1e" text-anchor="middle">n</text>
<text transform="translate(39.80 242.40) rotate(-90) scale(1.000 1)" font-family="Liberation Serif" font-size="23.0" fill="#1e1e1e" text-anchor="middle">s</text>
<text transform="translate(39.80 230.80) rotate(-90) scale(1.000 1)" font-family="Liberation Serif" font-size="23.0" fill="#1e1e1e" text-anchor="middle">i</text>
<text transform="translate(39.80 219.20) rotate(-90) scale(1.000 1)" font-family="Liberation Serif" font-size="23.0" fill="#1e1e1e" text-anchor="middle">t</text>
<text transform="translate(39.80 207.60) rotate(-90) scale(1.000 1)" font-family="Liberation Serif" font-size="23.0" fill="#1e1e1e" text-anchor="middle">i</text>
<text transform="translate(39.80 196.00) rotate(-90) scale(0.958 1)" font-family="Liberation Serif" font-size="23.0" fill="#1e1e1e" text-anchor="middle">v</text>
<text transform="translate(39.80 184.40) rotate(-90) scale(1.000 1)" font-family="Liberation Serif" font-size="23.0" fill="#1e1e1e" text-anchor="middle">i</text>
<text transform="translate(39.80 172.80) rotate(-90) scale(1.000 1)" font-family="Liberation Serif" font-size="23.0" fill="#1e1e1e" text-anchor="middle">t</text>
<text transform="translate(39.80 161.20) rotate(-90) scale(0.958 1)" font-family="Liberation Serif" font-size="23.0" fill="#1e1e1e" text-anchor="middle">y</text>
<text transform="translate(206.00 43.90) scale(1 0.950)" font-family="Liberation Serif" font-size="24.20" fill="#ff5a00" text-anchor="start" xml:space="preserve">R53(orange)</text>
<text transform="translate(570.00 41.50) scale(1 0.950)" font-family="Liberation Serif" font-size="24.20" fill="#1028ff" text-anchor="start" xml:space="preserve">R99(blue)</text>
<text transform="translate(215.30 394.30) scale(1 0.950)" font-family="Liberation Serif" font-size="24.20" fill="#55ff00" text-anchor="start" xml:space="preserve">R84 (green)</text>
<text transform="translate(571.60 426.30) scale(1 0.950)" font-family="Liberation Serif" font-size="24.20" fill="#ff0000" text-anchor="start" xml:space="preserve">R38(red)</text>
<line x1="322.3" y1="48.5" x2="394.7" y2="152.4" stroke="#ff5a00" stroke-width="1"/>
<path d="M399.3 159.0 L392.3 154.2 L395.9 154.1 L397.2 150.7 Z" fill="#ff5a00"/>
<line x1="572.0" y1="42.0" x2="519.5" y2="71.1" stroke="#1028ff" stroke-width="1"/>
<path d="M512.5 75.0 L518.0 68.5 L517.7 72.1 L521.0 73.7 Z" fill="#1028ff"/>
<line x1="328.0" y1="380.3" x2="360.2" y2="351.3" stroke="#55ff00" stroke-width="1"/>
<path d="M366.2 346.0 L362.3 353.6 L361.7 350.0 L358.2 349.1 Z" fill="#55ff00"/>
<line x1="574.0" y1="417.4" x2="518.4" y2="412.9" stroke="#ff0000" stroke-width="1"/>
<path d="M510.4 412.2 L518.6 409.9 L516.4 412.7 L518.1 415.8 Z" fill="#ff0000"/>
<text transform="translate(4.35 555.60) scale(0.845 1.070)" font-family="Liberation Serif" font-size="17.5" fill="#1e1e1e" text-anchor="middle">P</text>
<text transform="translate(21.67 555.60) scale(0.834 1.070)" font-family="Liberation Serif" font-size="17.5" fill="#1e1e1e" text-anchor="middle">=</text>
<text transform="translate(38.99 555.60) scale(1.000 1.070)" font-family="Liberation Serif" font-size="17.5" fill="#1e1e1e" text-anchor="middle">1</text>
<text transform="translate(56.31 555.60) scale(1.000 1.070)" font-family="Liberation Serif" font-size="17.5" fill="#1e1e1e" text-anchor="middle">a</text>
<text transform="translate(64.97 555.60) scale(1.000 1.070)" font-family="Liberation Serif" font-size="17.5" fill="#1e1e1e" text-anchor="middle">t</text>
<text transform="translate(73.63 555.60) scale(0.604 1.070)" font-family="Liberation Serif" font-size="17.5" fill="#1e1e1e" text-anchor="middle">m</text>
<text transform="translate(99.61 555.60) scale(0.770 1.070)" font-family="Liberation Serif" font-size="17.5" fill="#1e1e1e" text-anchor="middle">T</text>
<text transform="translate(116.93 555.60) scale(0.834 1.070)" font-family="Liberation Serif" font-size="17.5" fill="#1e1e1e" text-anchor="middle">=</text>
<text transform="translate(134.25 555.60) scale(1.000 1.070)" font-family="Liberation Serif" font-size="17.5" fill="#1e1e1e" text-anchor="middle">2</text>
<text transform="translate(142.91 555.60) scale(1.000 1.070)" font-family="Liberation Serif" font-size="17.5" fill="#1e1e1e" text-anchor="middle">9</text>
<text transform="translate(151.57 555.60) scale(1.000 1.070)" font-family="Liberation Serif" font-size="17.5" fill="#1e1e1e" text-anchor="middle">8</text>
<text transform="translate(168.89 555.60) scale(0.651 1.070)" font-family="Liberation Serif" font-size="17.5" fill="#1e1e1e" text-anchor="middle">K</text>
<text transform="translate(190.00 555.50) scale(1 1.000)" font-family="Liberation Serif" font-size="16.50" fill="#1e1e1e" text-anchor="start" xml:space="preserve" font-weight="bold">&#934;</text>
<text transform="translate(207.90 555.60) scale(1 1.000)" font-family="Liberation Serif" font-size="17.50" fill="#1e1e1e" text-anchor="middle" xml:space="preserve">=</text>
<text transform="translate(225.43 555.60) scale(1.000 1.000)" font-family="Liberation Serif" font-size="17.5" fill="#1e1e1e" text-anchor="middle">1</text>
<line x1="0.0" y1="569.9" x2="34.0" y2="569.9" stroke="#ff0000" stroke-width="2.4" stroke-dasharray="9.4 12.5"/>
<text transform="translate(55.93 576.00) scale(0.845 1.070)" font-family="Liberation Serif" font-size="17.5" fill="#1e1e1e" text-anchor="middle">F</text>
<text transform="translate(64.59 576.00) scale(1.000 1.070)" font-family="Liberation Serif" font-size="17.5" fill="#1e1e1e" text-anchor="middle">2</text>
<text transform="translate(73.25 576.00) scale(0.820 1.070)" font-family="Liberation Serif" font-size="17.5" fill="#1e1e1e" text-anchor="middle">&#8211;</text>
<text transform="translate(81.91 576.00) scale(0.705 1.070)" font-family="Liberation Serif" font-size="17.5" fill="#1e1e1e" text-anchor="middle">R</text>
<text transform="translate(90.57 576.00) scale(1.000 1.070)" font-family="Liberation Serif" font-size="17.5" fill="#1e1e1e" text-anchor="middle">3</text>
<text transform="translate(99.23 576.00) scale(1.000 1.070)" font-family="Liberation Serif" font-size="17.5" fill="#1e1e1e" text-anchor="middle">8</text>
<line x1="0.0" y1="588.8" x2="34.0" y2="588.8" stroke="#ff0000" stroke-width="2.4" stroke-dasharray="11.2 7.1 2 7.1"/>
<text transform="translate(55.93 595.30) scale(0.845 1.070)" font-family="Liberation Serif" font-size="17.5" fill="#1e1e1e" text-anchor="middle">F</text>
<text transform="translate(64.59 595.30) scale(1.000 1.070)" font-family="Liberation Serif" font-size="17.5" fill="#1e1e1e" text-anchor="middle">6</text>
<text transform="translate(73.25 595.30) scale(0.820 1.070)" font-family="Liberation Serif" font-size="17.5" fill="#1e1e1e" text-anchor="middle">&#8211;</text>
<text transform="translate(81.91 595.30) scale(0.705 1.070)" font-family="Liberation Serif" font-size="17.5" fill="#1e1e1e" text-anchor="middle">R</text>
<text transform="translate(90.57 595.30) scale(1.000 1.070)" font-family="Liberation Serif" font-size="17.5" fill="#1e1e1e" text-anchor="middle">3</text>
<text transform="translate(99.23 595.30) scale(1.000 1.070)" font-family="Liberation Serif" font-size="17.5" fill="#1e1e1e" text-anchor="middle">8</text>
<line x1="103.5" y1="569.9" x2="137.5" y2="569.9" stroke="#ff5a00" stroke-width="2.4" stroke-dasharray="9.4 12.5"/>
<text transform="translate(151.03 576.00) scale(0.845 1.070)" font-family="Liberation Serif" font-size="17.5" fill="#1e1e1e" text-anchor="middle">F</text>
<text transform="translate(159.69 576.00) scale(1.000 1.070)" font-family="Liberation Serif" font-size="17.5" fill="#1e1e1e" text-anchor="middle">2</text>
<text transform="translate(168.35 576.00) scale(0.820 1.070)" font-family="Liberation Serif" font-size="17.5" fill="#1e1e1e" text-anchor="middle">&#8211;</text>
<text transform="translate(177.01 576.00) scale(0.705 1.070)" font-family="Liberation Serif" font-size="17.5" fill="#1e1e1e" text-anchor="middle">R</text>
<text transform="translate(185.67 576.00) scale(1.000 1.070)" font-family="Liberation Serif" font-size="17.5" fill="#1e1e1e" text-anchor="middle">5</text>
<text transform="translate(194.33 576.00) scale(1.000 1.070)" font-family="Liberation Serif" font-size="17.5" fill="#1e1e1e" text-anchor="middle">3</text>
<line x1="103.5" y1="588.8" x2="137.5" y2="588.8" stroke="#ff5a00" stroke-width="2.4" stroke-dasharray="11.2 7.1 2 7.1"/>
<text transform="translate(151.03 595.30) scale(0.845 1.070)" font-family="Liberation Serif" font-size="17.5" fill="#1e1e1e" text-anchor="middle">F</text>
<text transform="translate(159.69 595.30) scale(1.000 1.070)" font-family="Liberation Serif" font-size="17.5" fill="#1e1e1e" text-anchor="middle">6</text>
<text transform="translate(168.35 595.30) scale(0.820 1.070)" font-family="Liberation Serif" font-size="17.5" fill="#1e1e1e" text-anchor="middle">&#8211;</text>
<text transform="translate(177.01 595.30) scale(0.705 1.070)" font-family="Liberation Serif" font-size="17.5" fill="#1e1e1e" text-anchor="middle">R</text>
<text transform="translate(185.67 595.30) scale(1.000 1.070)" font-family="Liberation Serif" font-size="17.5" fill="#1e1e1e" text-anchor="middle">5</text>
<text transform="translate(194.33 595.30) scale(1.000 1.070)" font-family="Liberation Serif" font-size="17.5" fill="#1e1e1e" text-anchor="middle">3</text>
<line x1="198.5" y1="569.9" x2="232.5" y2="569.9" stroke="#55ff00" stroke-width="2.4" stroke-dasharray="9.4 12.5"/>
<text transform="translate(245.23 576.00) scale(0.845 1.070)" font-family="Liberation Serif" font-size="17.5" fill="#1e1e1e" text-anchor="middle">F</text>
<text transform="translate(253.89 576.00) scale(1.000 1.070)" font-family="Liberation Serif" font-size="17.5" fill="#1e1e1e" text-anchor="middle">2</text>
<text transform="translate(262.55 576.00) scale(0.820 1.070)" font-family="Liberation Serif" font-size="17.5" fill="#1e1e1e" text-anchor="middle">&#8211;</text>
<text transform="translate(271.21 576.00) scale(0.705 1.070)" font-family="Liberation Serif" font-size="17.5" fill="#1e1e1e" text-anchor="middle">R</text>
<text transform="translate(279.87 576.00) scale(1.000 1.070)" font-family="Liberation Serif" font-size="17.5" fill="#1e1e1e" text-anchor="middle">8</text>
<text transform="translate(288.53 576.00) scale(1.000 1.070)" font-family="Liberation Serif" font-size="17.5" fill="#1e1e1e" text-anchor="middle">4</text>
<line x1="198.5" y1="588.8" x2="232.5" y2="588.8" stroke="#55ff00" stroke-width="2.4" stroke-dasharray="11.2 7.1 2 7.1"/>
<text transform="translate(245.23 595.30) scale(0.845 1.070)" font-family="Liberation Serif" font-size="17.5" fill="#1e1e1e" text-anchor="middle">F</text>
<text transform="translate(253.89 595.30) scale(1.000 1.070)" font-family="Liberation Serif" font-size="17.5" fill="#1e1e1e" text-anchor="middle">6</text>
<text transform="translate(262.55 595.30) scale(0.820 1.070)" font-family="Liberation Serif" font-size="17.5" fill="#1e1e1e" text-anchor="middle">&#8211;</text>
<text transform="translate(271.21 595.30) scale(0.705 1.070)" font-family="Liberation Serif" font-size="17.5" fill="#1e1e1e" text-anchor="middle">R</text>
<text transform="translate(279.87 595.30) scale(1.000 1.070)" font-family="Liberation Serif" font-size="17.5" fill="#1e1e1e" text-anchor="middle">8</text>
<text transform="translate(288.53 595.30) scale(1.000 1.070)" font-family="Liberation Serif" font-size="17.5" fill="#1e1e1e" text-anchor="middle">4</text>
<line x1="293.0" y1="569.9" x2="327.0" y2="569.9" stroke="#1028ff" stroke-width="2.4" stroke-dasharray="9.4 12.5"/>
<text transform="translate(340.73 576.00) scale(0.845 1.070)" font-family="Liberation Serif" font-size="17.5" fill="#1e1e1e" text-anchor="middle">F</text>
<text transform="translate(349.39 576.00) scale(1.000 1.070)" font-family="Liberation Serif" font-size="17.5" fill="#1e1e1e" text-anchor="middle">2</text>
<text transform="translate(358.05 576.00) scale(0.820 1.070)" font-family="Liberation Serif" font-size="17.5" fill="#1e1e1e" text-anchor="middle">&#8211;</text>
<text transform="translate(366.71 576.00) scale(0.705 1.070)" font-family="Liberation Serif" font-size="17.5" fill="#1e1e1e" text-anchor="middle">R</text>
<text transform="translate(375.37 576.00) scale(1.000 1.070)" font-family="Liberation Serif" font-size="17.5" fill="#1e1e1e" text-anchor="middle">9</text>
<text transform="translate(384.03 576.00) scale(1.000 1.070)" font-family="Liberation Serif" font-size="17.5" fill="#1e1e1e" text-anchor="middle">9</text>
<line x1="293.0" y1="588.8" x2="327.0" y2="588.8" stroke="#1028ff" stroke-width="2.4" stroke-dasharray="11.2 7.1 2 7.1"/>
<text transform="translate(340.73 595.30) scale(0.845 1.070)" font-family="Liberation Serif" font-size="17.5" fill="#1e1e1e" text-anchor="middle">F</text>
<text transform="translate(349.39 595.30) scale(1.000 1.070)" font-family="Liberation Serif" font-size="17.5" fill="#1e1e1e" text-anchor="middle">6</text>
<text transform="translate(358.05 595.30) scale(0.820 1.070)" font-family="Liberation Serif" font-size="17.5" fill="#1e1e1e" text-anchor="middle">&#8211;</text>
<text transform="translate(366.71 595.30) scale(0.705 1.070)" font-family="Liberation Serif" font-size="17.5" fill="#1e1e1e" text-anchor="middle">R</text>
<text transform="translate(375.37 595.30) scale(1.000 1.070)" font-family="Liberation Serif" font-size="17.5" fill="#1e1e1e" text-anchor="middle">9</text>
<text transform="translate(384.03 595.30) scale(1.000 1.070)" font-family="Liberation Serif" font-size="17.5" fill="#1e1e1e" text-anchor="middle">9</text>
<line x1="388.0" y1="569.9" x2="422.0" y2="569.9" stroke="#ff0000" stroke-width="2.4" stroke-dasharray="2 11"/>
<text transform="translate(444.33 576.00) scale(0.845 1.070)" font-family="Liberation Serif" font-size="17.5" fill="#1e1e1e" text-anchor="middle">F</text>
<text transform="translate(452.99 576.00) scale(1.000 1.070)" font-family="Liberation Serif" font-size="17.5" fill="#1e1e1e" text-anchor="middle">5</text>
<text transform="translate(461.65 576.00) scale(0.820 1.070)" font-family="Liberation Serif" font-size="17.5" fill="#1e1e1e" text-anchor="middle">&#8211;</text>
<text transform="translate(470.31 576.00) scale(0.705 1.070)" font-family="Liberation Serif" font-size="17.5" fill="#1e1e1e" text-anchor="middle">R</text>
<text transform="translate(478.97 576.00) scale(1.000 1.070)" font-family="Liberation Serif" font-size="17.5" fill="#1e1e1e" text-anchor="middle">3</text>
<text transform="translate(487.63 576.00) scale(1.000 1.070)" font-family="Liberation Serif" font-size="17.5" fill="#1e1e1e" text-anchor="middle">8</text>
<line x1="388.0" y1="588.8" x2="422.0" y2="588.8" stroke="#ff0000" stroke-width="2.4" stroke-dasharray="3.8 6.2"/>
<text transform="translate(444.33 595.30) scale(0.845 1.070)" font-family="Liberation Serif" font-size="17.5" fill="#1e1e1e" text-anchor="middle">F</text>
<text transform="translate(452.99 595.30) scale(1.000 1.070)" font-family="Liberation Serif" font-size="17.5" fill="#1e1e1e" text-anchor="middle">9</text>
<text transform="translate(461.65 595.30) scale(0.820 1.070)" font-family="Liberation Serif" font-size="17.5" fill="#1e1e1e" text-anchor="middle">&#8211;</text>
<text transform="translate(470.31 595.30) scale(0.705 1.070)" font-family="Liberation Serif" font-size="17.5" fill="#1e1e1e" text-anchor="middle">R</text>
<text transform="translate(478.97 595.30) scale(1.000 1.070)" font-family="Liberation Serif" font-size="17.5" fill="#1e1e1e" text-anchor="middle">3</text>
<text transform="translate(487.63 595.30) scale(1.000 1.070)" font-family="Liberation Serif" font-size="17.5" fill="#1e1e1e" text-anchor="middle">8</text>
<line x1="492.0" y1="569.9" x2="526.0" y2="569.9" stroke="#ff5a00" stroke-width="2.4" stroke-dasharray="2 11"/>
<text transform="translate(539.23 576.00) scale(0.845 1.070)" font-family="Liberation Serif" font-size="17.5" fill="#1e1e1e" text-anchor="middle">F</text>
<text transform="translate(547.89 576.00) scale(1.000 1.070)" font-family="Liberation Serif" font-size="17.5" fill="#1e1e1e" text-anchor="middle">5</text>
<text transform="translate(556.55 576.00) scale(0.820 1.070)" font-family="Liberation Serif" font-size="17.5" fill="#1e1e1e" text-anchor="middle">&#8211;</text>
<text transform="translate(565.21 576.00) scale(0.705 1.070)" font-family="Liberation Serif" font-size="17.5" fill="#1e1e1e" text-anchor="middle">R</text>
<text transform="translate(573.87 576.00) scale(1.000 1.070)" font-family="Liberation Serif" font-size="17.5" fill="#1e1e1e" text-anchor="middle">5</text>
<text transform="translate(582.53 576.00) scale(1.000 1.070)" font-family="Liberation Serif" font-size="17.5" fill="#1e1e1e" text-anchor="middle">3</text>
<line x1="492.0" y1="588.8" x2="526.0" y2="588.8" stroke="#ff5a00" stroke-width="2.4" stroke-dasharray="3.8 6.2"/>
<text transform="translate(539.23 595.30) scale(0.845 1.070)" font-family="Liberation Serif" font-size="17.5" fill="#1e1e1e" text-anchor="middle">F</text>
<text transform="translate(547.89 595.30) scale(1.000 1.070)" font-family="Liberation Serif" font-size="17.5" fill="#1e1e1e" text-anchor="middle">9</text>
<text transform="translate(556.55 595.30) scale(0.820 1.070)" font-family="Liberation Serif" font-size="17.5" fill="#1e1e1e" text-anchor="middle">&#8211;</text>
<text transform="translate(565.21 595.30) scale(0.705 1.070)" font-family="Liberation Serif" font-size="17.5" fill="#1e1e1e" text-anchor="middle">R</text>
<text transform="translate(573.87 595.30) scale(1.000 1.070)" font-family="Liberation Serif" font-size="17.5" fill="#1e1e1e" text-anchor="middle">5</text>
<text transform="translate(582.53 595.30) scale(1.000 1.070)" font-family="Liberation Serif" font-size="17.5" fill="#1e1e1e" text-anchor="middle">3</text>
<line x1="587.5" y1="569.9" x2="621.5" y2="569.9" stroke="#55ff00" stroke-width="2.4" stroke-dasharray="2 11"/>
<text transform="translate(633.73 576.00) scale(0.845 1.070)" font-family="Liberation Serif" font-size="17.5" fill="#1e1e1e" text-anchor="middle">F</text>
<text transform="translate(642.39 576.00) scale(1.000 1.070)" font-family="Liberation Serif" font-size="17.5" fill="#1e1e1e" text-anchor="middle">5</text>
<text transform="translate(651.05 576.00) scale(0.820 1.070)" font-family="Liberation Serif" font-size="17.5" fill="#1e1e1e" text-anchor="middle">&#8211;</text>
<text transform="translate(659.71 576.00) scale(0.705 1.070)" font-family="Liberation Serif" font-size="17.5" fill="#1e1e1e" text-anchor="middle">R</text>
<text transform="translate(668.37 576.00) scale(1.000 1.070)" font-family="Liberation Serif" font-size="17.5" fill="#1e1e1e" text-anchor="middle">8</text>
<text transform="translate(677.03 576.00) scale(1.000 1.070)" font-family="Liberation Serif" font-size="17.5" fill="#1e1e1e" text-anchor="middle">4</text>
<line x1="587.5" y1="588.8" x2="621.5" y2="588.8" stroke="#55ff00" stroke-width="2.4" stroke-dasharray="3.8 6.2"/>
<text transform="translate(633.73 595.30) scale(0.845 1.070)" font-family="Liberation Serif" font-size="17.5" fill="#1e1e1e" text-anchor="middle">F</text>
<text transform="translate(642.39 595.30) scale(1.000 1.070)" font-family="Liberation Serif" font-size="17.5" fill="#1e1e1e" text-anchor="middle">9</text>
<text transform="translate(651.05 595.30) scale(0.820 1.070)" font-family="Liberation Serif" font-size="17.5" fill="#1e1e1e" text-anchor="middle">&#8211;</text>
<text transform="translate(659.71 595.30) scale(0.705 1.070)" font-family="Liberation Serif" font-size="17.5" fill="#1e1e1e" text-anchor="middle">R</text>
<text transform="translate(668.37 595.30) scale(1.000 1.070)" font-family="Liberation Serif" font-size="17.5" fill="#1e1e1e" text-anchor="middle">8</text>
<text transform="translate(677.03 595.30) scale(1.000 1.070)" font-family="Liberation Serif" font-size="17.5" fill="#1e1e1e" text-anchor="middle">4</text>
<line x1="682.0" y1="569.9" x2="716.0" y2="569.9" stroke="#1028ff" stroke-width="2.4" stroke-dasharray="2 11"/>
<text transform="translate(728.73 576.00) scale(0.845 1.070)" font-family="Liberation Serif" font-size="17.5" fill="#1e1e1e" text-anchor="middle">F</text>
<text transform="translate(737.39 576.00) scale(1.000 1.070)" font-family="Liberation Serif" font-size="17.5" fill="#1e1e1e" text-anchor="middle">5</text>
<text transform="translate(746.05 576.00) scale(0.820 1.070)" font-family="Liberation Serif" font-size="17.5" fill="#1e1e1e" text-anchor="middle">&#8211;</text>
<text transform="translate(754.71 576.00) scale(0.705 1.070)" font-family="Liberation Serif" font-size="17.5" fill="#1e1e1e" text-anchor="middle">R</text>
<text transform="translate(763.37 576.00) scale(1.000 1.070)" font-family="Liberation Serif" font-size="17.5" fill="#1e1e1e" text-anchor="middle">9</text>
<text transform="translate(772.03 576.00) scale(1.000 1.070)" font-family="Liberation Serif" font-size="17.5" fill="#1e1e1e" text-anchor="middle">9</text>
<line x1="682.0" y1="588.8" x2="716.0" y2="588.8" stroke="#1028ff" stroke-width="2.4" stroke-dasharray="3.8 6.2"/>
<text transform="translate(728.73 595.30) scale(0.845 1.070)" font-family="Liberation Serif" font-size="17.5" fill="#1e1e1e" text-anchor="middle">F</text>
<text transform="translate(737.39 595.30) scale(1.000 1.070)" font-family="Liberation Serif" font-size="17.5" fill="#1e1e1e" text-anchor="middle">9</text>
<text transform="translate(746.05 595.30) scale(0.820 1.070)" font-family="Liberation Serif" font-size="17.5" fill="#1e1e1e" text-anchor="middle">&#8211;</text>
<text transform="translate(754.71 595.30) scale(0.705 1.070)" font-family="Liberation Serif" font-size="17.5" fill="#1e1e1e" text-anchor="middle">R</text>
<text transform="translate(763.37 595.30) scale(1.000 1.070)" font-family="Liberation Serif" font-size="17.5" fill="#1e1e1e" text-anchor="middle">9</text>
<text transform="translate(772.03 595.30) scale(1.000 1.070)" font-family="Liberation Serif" font-size="17.5" fill="#1e1e1e" text-anchor="middle">9</text>
<line x1="316.2" y1="549.6" x2="350.7" y2="549.6" stroke="#ff0000" stroke-width="2.6"/>
<text transform="translate(371.73 555.60) scale(0.845 1.070)" font-family="Liberation Serif" font-size="17.5" fill="#1e1e1e" text-anchor="middle">F</text>
<text transform="translate(380.39 555.60) scale(1.000 1.070)" font-family="Liberation Serif" font-size="17.5" fill="#1e1e1e" text-anchor="middle">1</text>
<text transform="translate(389.05 555.60) scale(0.820 1.070)" font-family="Liberation Serif" font-size="17.5" fill="#1e1e1e" text-anchor="middle">&#8211;</text>
<text transform="translate(397.71 555.60) scale(0.705 1.070)" font-family="Liberation Serif" font-size="17.5" fill="#1e1e1e" text-anchor="middle">R</text>
<text transform="translate(406.37 555.60) scale(1.000 1.070)" font-family="Liberation Serif" font-size="17.5" fill="#1e1e1e" text-anchor="middle">3</text>
<text transform="translate(415.03 555.60) scale(1.000 1.070)" font-family="Liberation Serif" font-size="17.5" fill="#1e1e1e" text-anchor="middle">8</text>
<line x1="420.0" y1="549.6" x2="454.5" y2="549.6" stroke="#ff5a00" stroke-width="2.6"/>
<text transform="translate(466.23 555.60) scale(0.845 1.070)" font-family="Liberation Serif" font-size="17.5" fill="#1e1e1e" text-anchor="middle">F</text>
<text transform="translate(474.89 555.60) scale(1.000 1.070)" font-family="Liberation Serif" font-size="17.5" fill="#1e1e1e" text-anchor="middle">1</text>
<text transform="translate(483.55 555.60) scale(0.820 1.070)" font-family="Liberation Serif" font-size="17.5" fill="#1e1e1e" text-anchor="middle">&#8211;</text>
<text transform="translate(492.21 555.60) scale(0.705 1.070)" font-family="Liberation Serif" font-size="17.5" fill="#1e1e1e" text-anchor="middle">R</text>
<text transform="translate(500.87 555.60) scale(1.000 1.070)" font-family="Liberation Serif" font-size="17.5" fill="#1e1e1e" text-anchor="middle">5</text>
<text transform="translate(509.53 555.60) scale(1.000 1.070)" font-family="Liberation Serif" font-size="17.5" fill="#1e1e1e" text-anchor="middle">3</text>
<line x1="515.3" y1="549.6" x2="549.8" y2="549.6" stroke="#55ff00" stroke-width="2.6"/>
<text transform="translate(561.53 555.60) scale(0.845 1.070)" font-family="Liberation Serif" font-size="17.5" fill="#1e1e1e" text-anchor="middle">F</text>
<text transform="translate(570.19 555.60) scale(1.000 1.070)" font-family="Liberation Serif" font-size="17.5" fill="#1e1e1e" text-anchor="middle">1</text>
<text transform="translate(578.85 555.60) scale(0.820 1.070)" font-family="Liberation Serif" font-size="17.5" fill="#1e1e1e" text-anchor="middle">&#8211;</text>
<text transform="translate(587.51 555.60) scale(0.705 1.070)" font-family="Liberation Serif" font-size="17.5" fill="#1e1e1e" text-anchor="middle">R</text>
<text transform="translate(596.17 555.60) scale(1.000 1.070)" font-family="Liberation Serif" font-size="17.5" fill="#1e1e1e" text-anchor="middle">8</text>
<text transform="translate(604.83 555.60) scale(1.000 1.070)" font-family="Liberation Serif" font-size="17.5" fill="#1e1e1e" text-anchor="middle">4</text>
<line x1="609.5" y1="549.6" x2="644.0" y2="549.6" stroke="#1028ff" stroke-width="2.6"/>
<text transform="translate(657.03 555.60) scale(0.845 1.070)" font-family="Liberation Serif" font-size="17.5" fill="#1e1e1e" text-anchor="middle">F</text>
<text transform="translate(665.69 555.60) scale(1.000 1.070)" font-family="Liberation Serif" font-size="17.5" fill="#1e1e1e" text-anchor="middle">1</text>
<text transform="translate(674.35 555.60) scale(0.820 1.070)" font-family="Liberation Serif" font-size="17.5" fill="#1e1e1e" text-anchor="middle">&#8211;</text>
<text transform="translate(683.01 555.60) scale(0.705 1.070)" font-family="Liberation Serif" font-size="17.5" fill="#1e1e1e" text-anchor="middle">R</text>
<text transform="translate(691.67 555.60) scale(1.000 1.070)" font-family="Liberation Serif" font-size="17.5" fill="#1e1e1e" text-anchor="middle">9</text>
<text transform="translate(700.33 555.60) scale(1.000 1.070)" font-family="Liberation Serif" font-size="17.5" fill="#1e1e1e" text-anchor="middle">9</text>
</svg>
</body></html>
